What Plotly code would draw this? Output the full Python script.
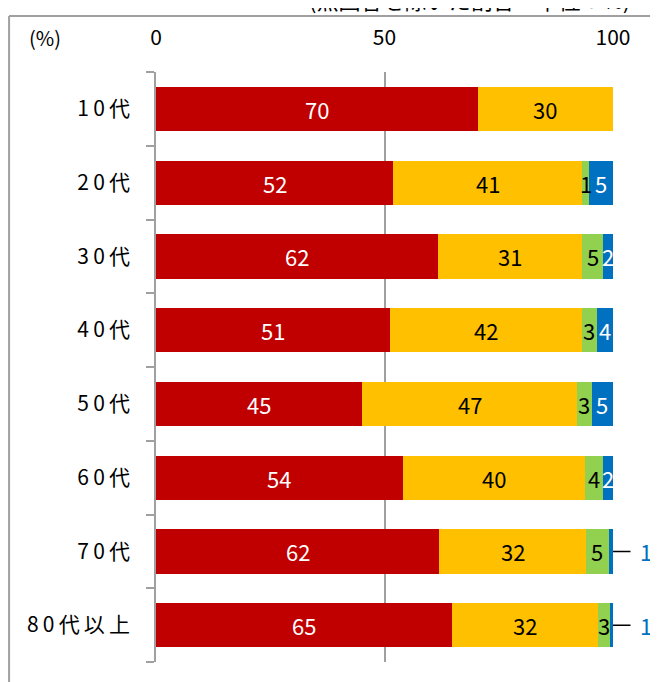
import plotly.graph_objects as go

categories = ['10代', '20代', '30代', '40代', '50代', '60代', '70代', '80代以上']
series_names = ['A', 'B', 'C', 'D']
red_vals = [70.4, 51.9, 61.8, 51.3, 45.1, 54.0, 62.0, 64.8]
yellow_vals = [29.6, 41.4, 31.4, 41.9, 47.0, 39.8, 32.1, 31.9]
green_vals = [0, 1.4, 4.7, 3.2, 3.2, 4.0, 5.0, 2.6]
blue_vals = [0, 5.3, 2.1, 3.6, 4.7, 2.2, 0.9, 0.7]
red_text = ['70', '52', '62', '51', '45', '54', '62', '65']
yellow_text = ['30', '41', '31', '42', '47', '40', '32', '32']
green_text = ['', '1', '5', '3', '3', '4', '5', '3']
blue_text = ['', '5', '2', '4', '5', '2', '1', '1']

colors = ['#C00000', '#FFC000', '#92D050', '#0070C0']
text_colors = ['white', 'black', 'black', 'white']
font = 'Noto Sans CJK JP, Noto Sans, sans-serif'

all_vals = [red_vals, yellow_vals, green_vals, blue_vals]
all_text = [red_text, yellow_text, green_text, blue_text]

fig = go.Figure()
for vals, name, c in zip(all_vals, series_names, colors):
    fig.add_trace(go.Bar(
        y=categories, x=vals, orientation='h', name=name,
        marker=dict(color=c, line=dict(width=0)),
        textposition='none', hoverinfo='skip'
    ))

# 値ラベル（各区間の中央）
for i, cat in enumerate(categories):
    left = 0
    for k in range(4):
        v = all_vals[k][i]
        t = all_text[k][i]
        if t and not (k == 3 and v < 1.5):
            fig.add_annotation(x=left + v / 2, y=cat, text=t, showarrow=False,
                               xanchor='center', yanchor='middle',
                               font=dict(size=22, color=text_colors[k], family=font))
        elif t:
            # 小さい値は引き出し線で外側に
            fig.add_annotation(x=100, y=cat, ax=19, ay=0, text='',
                               showarrow=True, arrowhead=0, arrowwidth=1.5,
                               arrowcolor='black', standoff=0)
            fig.add_annotation(x=100, y=cat, xshift=33, text=t, showarrow=False,
                               xanchor='center', yanchor='middle',
                               font=dict(size=22, color='#0070C0', family=font))
        left += v

fig.add_annotation(x=-0.243, y=1.059, xref='paper', yref='paper', text='(%)',
                   xanchor='center', yanchor='middle', showarrow=False,
                   font=dict(size=20, color='black', family=font))
fig.add_annotation(x=0.687, y=1.124, xref='paper', yref='paper',
                   text='(無回答を除いた割合・単位：%)', showarrow=False,
                   xanchor='center', yanchor='middle',
                   font=dict(size=22, color='black', family=font))

# 外枠
fig.add_shape(type='line', xref='paper', yref='paper', x0=-0.3215, x1=-0.3215,
              y0=-0.2, y1=1.095, line=dict(color='#A0A0A0', width=2))
fig.add_shape(type='line', xref='paper', yref='paper', x0=-0.3215, x1=1.2,
              y0=1.095, y1=1.095, line=dict(color='#A0A0A0', width=2))

ticktext = ['\u2009'.join(c) for c in categories]

fig.update_layout(
    width=658, height=682,
    margin=dict(l=148, r=53, t=64, b=28, autoexpand=False),
    plot_bgcolor='white', paper_bgcolor='white',
    barmode='stack', bargap=0.4, showlegend=False,
    font=dict(family=font, size=21, color='black'),
    xaxis=dict(range=[0, 100], side='top', tickvals=[0, 50, 100],
               showgrid=True, gridcolor='#A0A0A0', gridwidth=1.5,
               zeroline=False, showline=False, ticks='', automargin=False,
               ticklabelstandoff=22, tickfont=dict(size=21)),
    yaxis=dict(autorange='reversed', showline=True, linecolor='#A0A0A0',
               linewidth=1.5, ticks='outside', tickson='boundaries',
               ticklen=8, tickcolor='#A0A0A0', tickwidth=1.5, automargin=False,
               tickvals=categories, ticktext=ticktext,
               ticklabelstandoff=20, tickfont=dict(size=21)),
)

fig.write_html('out.html', config={'displayModeBar': False})
